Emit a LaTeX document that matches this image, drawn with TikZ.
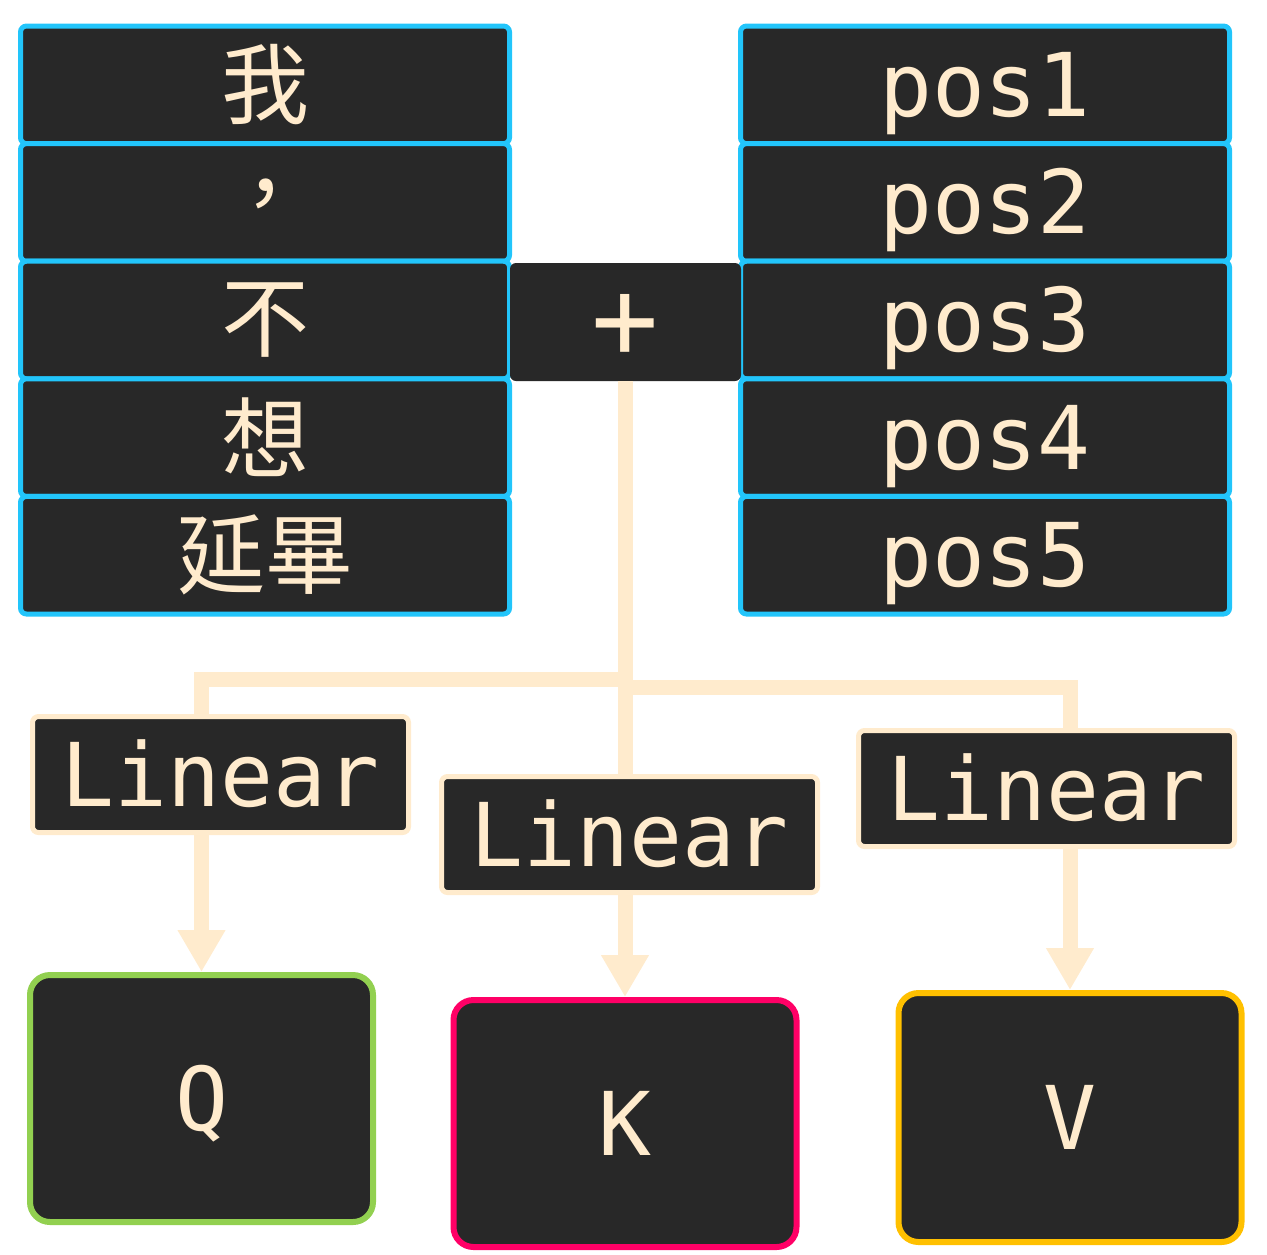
\documentclass[tikz,border=0pt]{standalone}
\usepackage{fontspec}
\setmonofont{DejaVu Sans Mono}
\newfontfamily\cjk{Noto Sans CJK TC}
\usetikzlibrary{arrows.meta}
\definecolor{boxbg}{HTML}{282828}
\definecolor{cream}{HTML}{FFEBCD}
\definecolor{tokblue}{HTML}{22C5FB}
\definecolor{qgreen}{HTML}{92D050}
\definecolor{kpink}{HTML}{FF0066}
\definecolor{vgold}{HTML}{FFC000}
\tikzset{
  tok/.style={draw=tokblue, line width=5pt, fill=boxbg, rounded corners=6pt,
    minimum width=489pt, minimum height=117.6pt, inner sep=0pt, text=cream},
  cjktext/.style={font={\cjk\fontsize{88}{96}\selectfont}},
  monotext/.style={font={\ttfamily\fontsize{88}{96}\selectfont}, text height=63pt, text depth=0pt},
  plusbox/.style={fill=boxbg, rounded corners=6pt, minimum width=231pt, minimum height=118pt,
    inner sep=0pt, text=cream, font={\ttfamily\fontsize{112}{120}\selectfont}, text height=72pt, text depth=0pt},
  linbox/.style={draw=cream, line width=5pt, fill=boxbg, rounded corners=6pt,
    minimum width=376pt, minimum height=116pt, inner sep=0pt, text=cream, monotext},
  outbox/.style={line width=6pt, fill=boxbg, rounded corners=20pt,
    minimum width=343pt, minimum height=247pt, inner sep=0pt, text=cream, monotext},
  conn/.style={draw=cream, line width=15pt, line join=miter},
  arr/.style={conn, -{Triangle[width=45pt,length=42pt]}}
}
\begin{document}
\begin{tikzpicture}[x=1pt,y=-1pt]
\useasboundingbox (0,0) rectangle (1267,1254);
% token column
\node[tok,cjktext] (t1) at (265,84.8) {我};
\node[tok,cjktext] (t2) at (265,202.4) {，};
\node[tok,cjktext] (t3) at (265,320) {不};
\node[tok,cjktext] (t4) at (265,437.6) {想};
\node[tok,cjktext] (t5) at (265,555.2) {延畢};
% position column
\node[tok,monotext] (p1) at (985,84.8) {pos1};
\node[tok,monotext] (p2) at (985,202.4) {pos2};
\node[tok,monotext] (p3) at (985,320) {pos3};
\node[tok,monotext] (p4) at (985,437.6) {pos4};
\node[tok,monotext] (p5) at (985,555.2) {pos5};
% plus
\node[plusbox] (plus) at (625.5,322) {+};
% linear layers
\node[linbox] (lq) at (220.5,774.5) {Linear};
\node[linbox] (lk) at (629.5,834.5) {Linear};
\node[linbox] (lv) at (1046.5,788.5) {Linear};
% outputs
\node[outbox,draw=qgreen] (q) at (201.5,1098.5) {Q};
\node[outbox,draw=kpink,minimum height=247pt] (k) at (625,1123.5) {K};
\node[outbox,draw=vgold,minimum height=249pt] (v) at (1070,1117.5) {V};
% junctions
\coordinate (jl) at (625.5,679);
\coordinate (jr) at (625.5,687);
% connectors
\draw[conn] (plus.south) -- (jl) -| (lq.north -| q.north);
\draw[conn] (plus.south) -- (jr) -| (lv.north -| v.north);
\draw[conn] (plus.south) -- (plus.south |- lk.north);
\draw[arr] (lq.south -| q.north) -- (q.north);
\draw[arr] (lk.south -| k.north) -- (k.north);
\draw[arr] (lv.south -| v.north) -- (v.north);
\end{tikzpicture}
\end{document}
